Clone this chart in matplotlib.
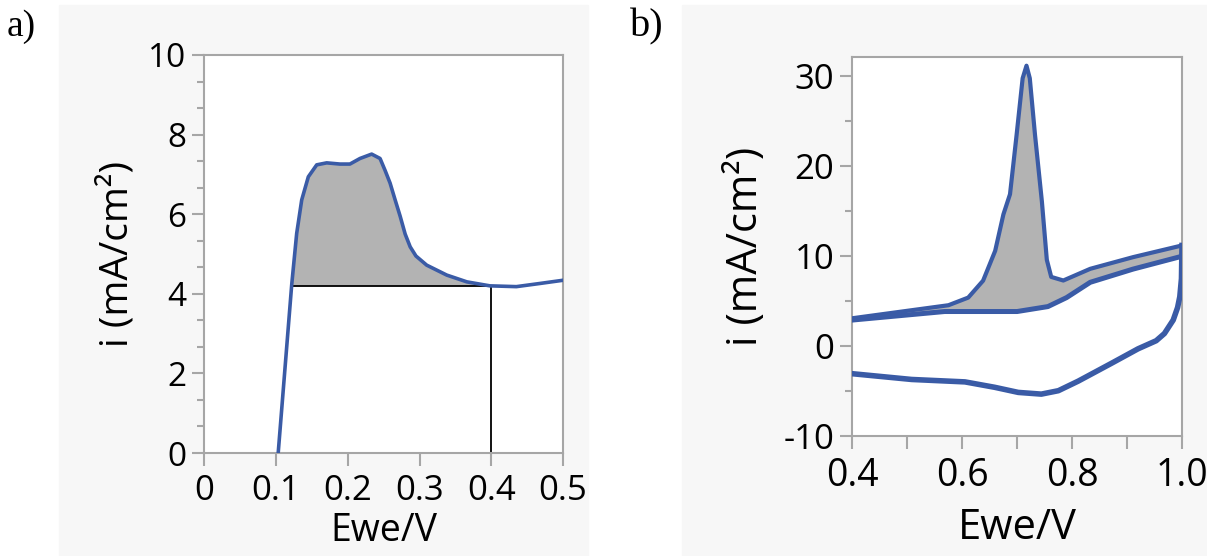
import matplotlib
matplotlib.use("Agg")
import matplotlib.pyplot as plt
from matplotlib.patches import Rectangle
from matplotlib.ticker import MultipleLocator, FixedLocator
import numpy as np

plt.rcParams['font.family'] = ['Open Sans', 'DejaVu Sans']
plt.rcParams['axes.unicode_minus'] = False

# panel a: linear sweep
lsv_x = [0.103, 0.1218, 0.1288, 0.1358, 0.145, 0.1567, 0.1706, 0.189, 0.203, 0.217,
         0.2333, 0.245, 0.252, 0.259, 0.266, 0.273, 0.280, 0.287, 0.295, 0.310,
         0.338, 0.366, 0.398, 0.435, 0.468, 0.5]
lsv_y = [0.0, 4.22, 5.52, 6.36, 6.94, 7.24, 7.29, 7.26, 7.26, 7.40,
         7.51, 7.40, 7.10, 6.78, 6.36, 5.95, 5.50, 5.18, 4.95, 4.72,
         4.47, 4.30, 4.20, 4.18, 4.26, 4.34]
base_level = 4.2
x_start = 0.1218
x_end = 0.40

# panel b: cyclic voltammogram
peak_x = [0.4, 0.575, 0.611, 0.638, 0.660, 0.675, 0.687, 0.699, 0.710, 0.717,
          0.723, 0.7325, 0.745, 0.754, 0.762, 0.784, 0.833, 0.911, 1.0]
peak_y = [3.1, 4.55, 5.4, 7.28, 10.6, 14.66, 16.9, 23.5, 29.8, 31.2,
          29.8, 23.5, 16.1, 9.6, 7.7, 7.3, 8.6, 9.9, 11.2]
base_x = [0.4, 0.568, 0.70, 0.756, 0.79, 0.833, 0.911, 1.0]
base_y = [2.9, 3.85, 3.85, 4.4, 5.4, 7.1, 8.57, 10.0]
rev_x = [1.0, 0.999, 0.996, 0.992, 0.984, 0.968, 0.953, 0.92, 0.872, 0.811,
         0.775, 0.744, 0.702, 0.659, 0.605, 0.508, 0.4]
rev_y = [11.2, 7.5, 5.5, 4.3, 2.9, 1.4, 0.6, -0.3, -1.9, -3.9,
         -4.96, -5.34, -5.15, -4.58, -3.98, -3.71, -3.07]

blue = '#3a5ba6'
fill_grey = '#b3b3b3'
spine_grey = '#a6a6a6'

W, H = 1207, 556
fig = plt.figure(figsize=(W / 100, H / 100), dpi=100)
fig.patch.set_facecolor('white')

# light grey panels behind each plot
for x0, x1 in [(59, 588), (682, W)]:
    fig.patches.append(Rectangle((x0 / W, 0), (x1 - x0) / W, (H - 5) / H,
                                 transform=fig.transFigure, color='#f7f7f7', zorder=-10))


def px_axes(left, right, top, bottom):
    ax = fig.add_axes([left / W, (H - bottom) / H, (right - left) / W, (bottom - top) / H])
    ax.set_zorder(5)
    ax.set_facecolor('white')
    return ax


def style(ax):
    for s in ax.spines.values():
        s.set_color(spine_grey)
        s.set_linewidth(1.5)
    ax.tick_params(which='both', direction='out', color=spine_grey, width=1.5)
    ax.tick_params(which='major', length=9)
    ax.tick_params(which='minor', length=5)


# ---- a)
ax1 = px_axes(204.3, 563, 55, 453)
style(ax1)
ax1.plot(lsv_x, lsv_y, color=blue, lw=2.6, zorder=3)
lx = np.array(lsv_x)
ly = np.array(lsv_y)
ax1.fill_between(lx, ly, base_level, where=(lx >= x_start) & (lx <= x_end) & (ly >= base_level),
                 color=fill_grey, lw=0, zorder=1)
ax1.plot([x_start, x_end], [base_level, base_level], color='black', lw=1.3, zorder=2)
ax1.plot([x_end, x_end], [0, base_level], color='black', lw=1.3, zorder=2)
ax1.set_xlim(0, 0.5)
ax1.set_ylim(0, 10)
ax1.set_xticks([0, 0.1, 0.2, 0.3, 0.4, 0.5])
ax1.set_xticklabels(['0', '0.1', '0.2', '0.3', '0.4', '0.5'])
ax1.set_yticks([0, 2, 4, 6, 8, 10])
ax1.yaxis.set_minor_locator(MultipleLocator(2 / 3))
ax1.tick_params(axis='x', labelsize=25, pad=6)
ax1.tick_params(axis='y', labelsize=24, pad=4)
ax1.set_xlabel('Ewe/V', fontsize=27, labelpad=3)
ax1.set_ylabel('i (mA/cm²)', fontsize=28, labelpad=8)

# ---- b)
ax2 = px_axes(852.3, 1182, 56.7, 436)
style(ax2)
ax2.fill(np.r_[peak_x, base_x[::-1]], np.r_[peak_y, base_y[::-1]], color=fill_grey, lw=0, zorder=1)
ax2.plot(peak_x, peak_y, color=blue, lw=3.0, zorder=3)
ax2.plot(base_x, base_y, color=blue, lw=3.6, zorder=3)
ax2.plot(rev_x, rev_y, color=blue, lw=4.0, zorder=3)
ax2.set_xlim(0.4, 1.0)
ax2.set_ylim(-10, 32.2)
ax2.set_xticks([0.4, 0.6, 0.8, 1.0])
ax2.set_xticklabels(['0.4', '0.6', '0.8', '1.0'])
ax2.xaxis.set_minor_locator(FixedLocator([0.5, 0.7, 0.9]))
ax2.tick_params(axis='x', which='minor', length=9)
ax2.set_yticks([-10, 0, 10, 20, 30])
ax2.yaxis.set_minor_locator(MultipleLocator(5))
ax2.tick_params(axis='x', labelsize=27, pad=6)
ax2.tick_params(axis='y', labelsize=25, pad=4)
ax2.set_xlabel('Ewe/V', fontsize=30, labelpad=9)
ax2.set_ylabel('i (mA/cm²)', fontsize=30, labelpad=12)

fig.text(7 / W, 1 - 36 / H, 'a)', fontsize=27, family='Liberation Serif')
fig.text(630 / W, 1 - 36 / H, 'b)', fontsize=29, family='Liberation Serif')

fig.savefig('out.png', dpi=100)
